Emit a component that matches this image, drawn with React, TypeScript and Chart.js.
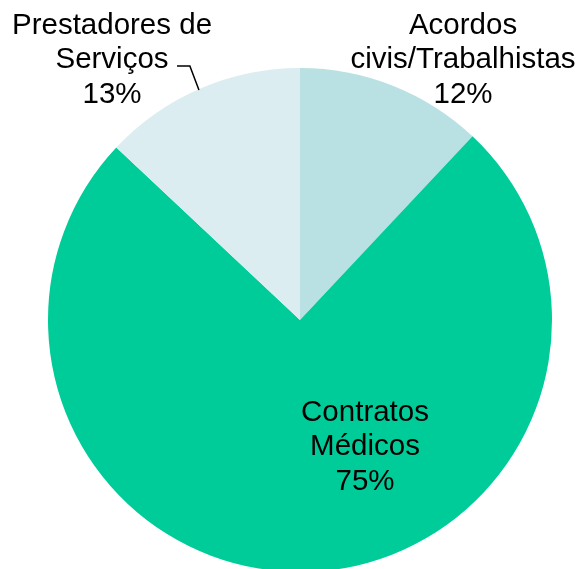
import React, { useEffect, useRef } from "react";
import { Chart, registerables } from "chart.js";

Chart.register(...registerables);

const categories = ["Acordos civis/Trabalhistas", "Contratos Médicos", "Prestadores de Serviços"];
const values = [12, 75, 13];
const labelLines = [
  ["Acordos", "civis/Trabalhistas", "12%"],
  ["Contratos", "Médicos", "75%"],
  ["Prestadores de", "Serviços", "13%"],
];
const colors = ["#b9e0e2", "#00cc99", "#dbedf0"];

// label anchor positions relative to pie center, in units of radius
const labelAnchors = [
  [0.647, -1.032],
  [0.258, 0.504],
  [-0.746, -1.032],
];

const labelPlugin = {
  id: "pieLabels",
  afterDatasetsDraw(chart: any) {
    const ctx = chart.ctx;
    const meta = chart.getDatasetMeta(0);
    const arc = meta.data[0];
    const cx = arc.x;
    const cy = arc.y;
    const r = arc.outerRadius;
    ctx.save();
    ctx.fillStyle = "#000";
    ctx.font = "29.5px 'Liberation Sans', Arial, sans-serif";
    ctx.textAlign = "center";
    ctx.textBaseline = "middle";
    const lh = 34.5;
    labelLines.forEach((lines, i) => {
      const x = cx + labelAnchors[i][0] * r;
      const y = cy + labelAnchors[i][1] * r;
      lines.forEach((t, j) => {
        ctx.fillText(t, x, y + (j - (lines.length - 1) / 2) * lh);
      });
    });
    // leader line for Prestadores
    ctx.strokeStyle = "#000";
    ctx.lineWidth = 1.5;
    ctx.beginPath();
    ctx.moveTo(cx - 0.488 * r, cy - 1.008 * r);
    ctx.lineTo(cx - 0.437 * r, cy - 1.008 * r);
    ctx.lineTo(cx - 0.401 * r, cy - 0.913 * r);
    ctx.stroke();
    ctx.restore();
  },
};

export default function App() {
  const ref = useRef<HTMLCanvasElement>(null);
  useEffect(() => {
    document.body.style.margin = "0";
    const chart = new Chart(ref.current!, {
      type: "pie",
      data: {
        labels: categories,
        datasets: [
          {
            data: values,
            backgroundColor: colors,
            borderWidth: 0,
          },
        ],
      },
      options: {
        responsive: false,
        animation: false,
        layout: { padding: { left: 48, right: 27, top: 68, bottom: 68 } },
        plugins: { legend: { display: false }, tooltip: { enabled: false } },
      },
      plugins: [labelPlugin],
    });
    return () => chart.destroy();
  }, []);
  return (
    <div style={{ width: 579, height: 569, overflow: "hidden", position: "relative", background: "#fff" }}>
      <canvas ref={ref} width={579} height={640} style={{ display: "block" }} />
    </div>
  );
}
